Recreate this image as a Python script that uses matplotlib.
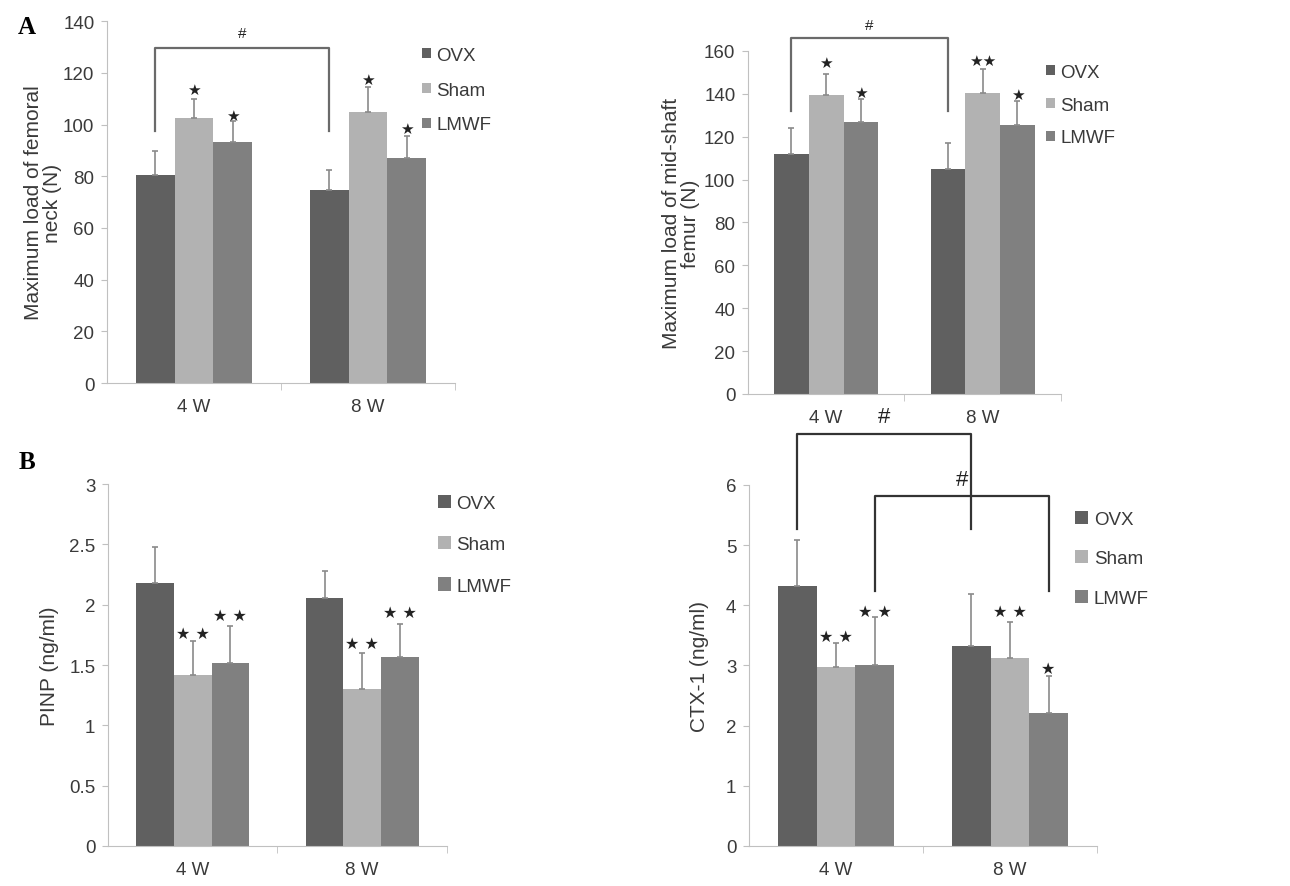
"""Bone strength and serum marker bar charts (OVX / Sham / LMWF)."""
import numpy as np
import matplotlib
matplotlib.use("Agg")
import matplotlib.pyplot as plt
from matplotlib.patches import Patch

plt.rcParams["font.family"] = ["Liberation Sans", "DejaVu Sans"]

# ---- data ----
weeks = ["4 W", "8 W"]
groups = ["OVX", "Sham", "LMWF"]
colors = ["#606060", "#b2b2b2", "#808080"]

# A left: femoral neck maximum load (N)
neck_mean = {"OVX": [80.6, 74.8], "Sham": [102.7, 104.7], "LMWF": [93.3, 87.1]}
neck_err = {"OVX": [9.2, 7.8], "Sham": [7.1, 10.0], "LMWF": [8.1, 8.3]}
neck_stars = [("Sham", 0, "★", 114), ("LMWF", 0, "★", 104),
              ("Sham", 1, "★", 118), ("LMWF", 1, "★", 99)]

# A right: mid-shaft femur maximum load (N)
shaft_mean = {"OVX": [112, 105], "Sham": [139.6, 140.4], "LMWF": [127, 125.6]}
shaft_err = {"OVX": [12, 12], "Sham": [9.7, 11.2], "LMWF": [10.6, 11.2]}
shaft_stars = [("Sham", 0, "★", 155), ("LMWF", 0, "★", 141),
               ("Sham", 1, "★★", 156), ("LMWF", 1, "★", 140)]

# B left: PINP (ng/ml)
pinp_mean = {"OVX": [2.18, 2.055], "Sham": [1.42, 1.30], "LMWF": [1.52, 1.57]}
pinp_err = {"OVX": [0.295, 0.225], "Sham": [0.28, 0.30], "LMWF": [0.30, 0.27]}
pinp_stars = [("Sham", 0, "★ ★", 1.77), ("LMWF", 0, "★ ★", 1.92),
              ("Sham", 1, "★ ★", 1.69), ("LMWF", 1, "★ ★", 1.95)]

# B right: CTX-1 (ng/ml)
ctx_mean = {"OVX": [4.32, 3.33], "Sham": [2.98, 3.12], "LMWF": [3.0, 2.21]}
ctx_err = {"OVX": [0.77, 0.85], "Sham": [0.39, 0.61], "LMWF": [0.80, 0.62]}
ctx_stars = [("Sham", 0, "★ ★", 3.51), ("LMWF", 0, "★ ★", 3.92),
             ("Sham", 1, "★ ★", 3.92), ("LMWF", 1, "★", 2.98)]

# brackets: (group, week_from, week_to, leg bottom, top, hash y)
neck_brackets = [("OVX", 0, 1, 97.5, 129.6, 136)]
shaft_brackets = [("OVX", 0, 1, 132, 166, 172.6)]
ctx_brackets = [("OVX", 0, 1, 5.27, 6.85, 7.18), ("LMWF", 0, 1, 4.23, 5.81, 6.13)]

BAR_W = 0.222
FS = 13.5
LABEL_FS = 15
TXT = "#3a3a3a"


def bar_x(group, week):
    return week + (groups.index(group) - 1) * BAR_W


def draw_panel(ax, means, errs, ymax, yticks, ylabels, ylabel, label_x,
               stars, star_fs, brackets, br_color, hash_fs,
               leg_anchor, leg_spacing, leg_handle):
    x = np.arange(len(weeks))
    for g, c in zip(groups, colors):
        xs = [bar_x(g, w) for w in x]
        ax.bar(xs, means[g], width=BAR_W, color=c, zorder=2)
        ax.errorbar(xs, means[g], yerr=[np.zeros(len(x)), errs[g]],
                    fmt="none", ecolor="#8a8a8a", elinewidth=1.2,
                    capsize=2.5, capthick=1.2, zorder=3)

    ax.set_xlim(-0.5, 1.5)
    ax.set_ylim(0, ymax)
    ax.set_xticks(x)
    ax.set_xticklabels(weeks, fontsize=FS, color=TXT)
    ax.set_xticks([0.5, 1.5], minor=True)
    ax.tick_params(axis="x", which="major", length=0, pad=11)
    ax.tick_params(axis="x", which="minor", length=5, color="#c0c0c0")
    ax.set_yticks(yticks)
    ax.set_yticklabels(ylabels, fontsize=FS, color=TXT)
    ax.tick_params(axis="y", length=4, color="#c0c0c0", pad=5)
    for s in ["top", "right"]:
        ax.spines[s].set_visible(False)
    for s in ["left", "bottom"]:
        ax.spines[s].set_color("#c0c0c0")
    ax.set_ylabel(ylabel, fontsize=LABEL_FS, color=TXT, linespacing=1.0)
    ax.yaxis.set_label_coords(label_x, 0.5)

    for g, w, s, y in stars:
        ax.annotate(s, (bar_x(g, w), y), xytext=(0, -0.36 * star_fs),
                    textcoords="offset points", ha="center", va="baseline",
                    fontsize=star_fs, color="#222222", family="DejaVu Sans",
                    annotation_clip=False)

    for g, w0, w1, yb, yt, yh in brackets:
        x0, x1 = bar_x(g, w0), bar_x(g, w1)
        ax.plot([x0, x0, x1, x1], [yb, yt, yt, yb], color=br_color,
                lw=1.6, clip_on=False, zorder=4)
        ax.annotate("#", ((x0 + x1) / 2, yh), xytext=(0, -0.36 * hash_fs),
                    textcoords="offset points", ha="center", va="baseline",
                    fontsize=hash_fs, color="#222222", annotation_clip=False)

    handles = [Patch(facecolor=c, edgecolor="none") for c in colors]
    ax.legend(handles, groups, loc="upper left", bbox_to_anchor=leg_anchor,
              frameon=False, fontsize=FS, handlelength=leg_handle,
              handleheight=leg_handle, handletextpad=0.3,
              labelspacing=leg_spacing, borderaxespad=0, labelcolor=TXT)


fig = plt.figure(figsize=(12.9, 8.87), dpi=100)

ax1 = fig.add_axes([0.0829, 0.567, 0.2698, 0.408])
ax2 = fig.add_axes([0.5798, 0.5547, 0.2426, 0.3867])
ax3 = fig.add_axes([0.0837, 0.0451, 0.2628, 0.408])
ax4 = fig.add_axes([0.5806, 0.0451, 0.2698, 0.407])

draw_panel(ax1, neck_mean, neck_err, 140, np.arange(0, 141, 20),
           [str(v) for v in range(0, 141, 20)],
           "Maximum load of femoral\nneck (N)", -0.128,
           neck_stars, 11, neck_brackets, "#6a6a6a", 11,
           (0.885, 0.95), 0.95, 0.45)
draw_panel(ax2, shaft_mean, shaft_err, 160, np.arange(0, 161, 20),
           [str(v) for v in range(0, 161, 20)],
           "Maximum load of mid-shaft\nfemur (N)", -0.152,
           shaft_stars, 11, shaft_brackets, "#6a6a6a", 11,
           (0.93, 0.985), 0.85, 0.45)
draw_panel(ax3, pinp_mean, pinp_err, 3, np.arange(0, 3.01, 0.5),
           ["0", "0.5", "1", "1.5", "2", "2.5", "3"],
           "PINP (ng/ml)", -0.145,
           pinp_stars, 11.5, [], "#333333", 16,
           (0.95, 0.99), 1.28, 0.7)
draw_panel(ax4, ctx_mean, ctx_err, 6, np.arange(0, 7, 1),
           [str(v) for v in range(0, 7)],
           "CTX-1 (ng/ml)", -0.115,
           ctx_stars, 11.5, ctx_brackets, "#333333", 16,
           (0.915, 0.95), 1.2, 0.7)

fig.text(0.021, 0.969, "A", fontsize=18, fontweight="bold",
         family="Liberation Serif", va="center", ha="center")
fig.text(0.021, 0.479, "B", fontsize=18, fontweight="bold",
         family="Liberation Serif", va="center", ha="center")

fig.savefig("out.png", dpi=100)
